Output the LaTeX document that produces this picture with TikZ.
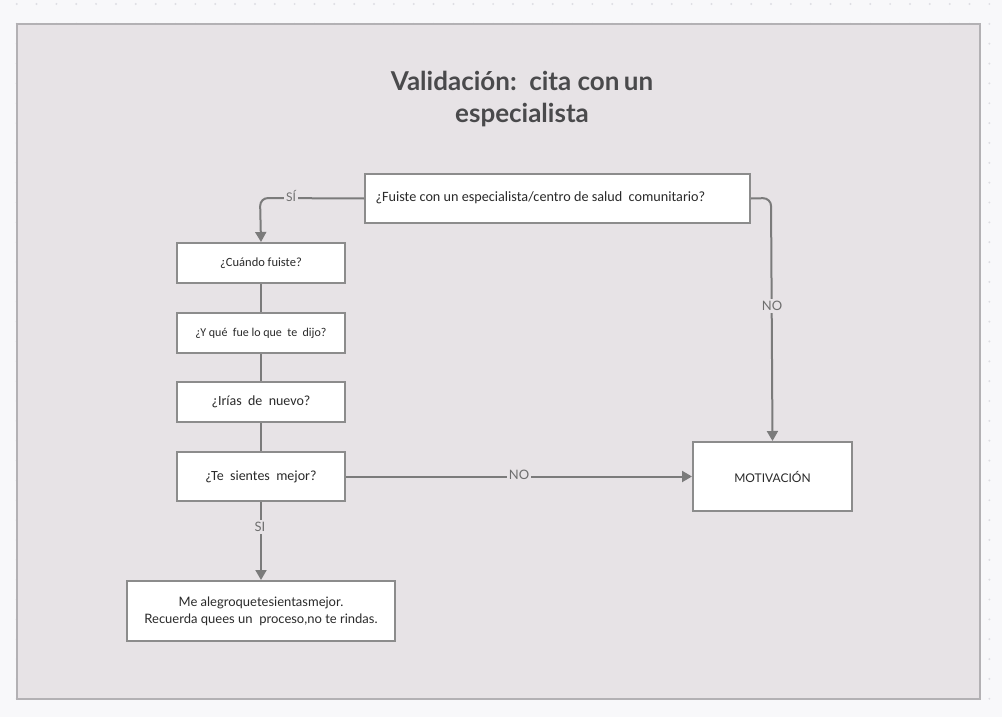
\documentclass[tikz,border=0pt]{standalone}
\usepackage{fontspec}
\setmainfont{Lato}
\newfontfamily\boxfont{Carlito}
\usetikzlibrary{arrows.meta}
\definecolor{pagebg}{HTML}{F8F8FA}
\definecolor{dotc}{HTML}{DEDEE3}
\definecolor{panelbg}{HTML}{E7E3E6}
\definecolor{panelbd}{HTML}{B3B1B4}
\definecolor{linec}{HTML}{7B7B7B}
\definecolor{boxbd}{HTML}{8C8C8C}
\definecolor{titlec}{HTML}{4A4A4C}
\definecolor{textc}{HTML}{2A2A2A}
\definecolor{labc}{HTML}{6E6E6E}
\tikzset{
  qbox/.style={draw=boxbd, line width=2pt, fill=white, inner sep=0pt, text=textc},
  conn/.style={draw=linec, line width=2pt},
  arr/.style={conn, -{Triangle[length=10pt,width=11pt]}},
  lab/.style={fill=panelbg, inner sep=2pt, text=labc, font=\fontsize{12}{14}\selectfont}
}
\begin{document}
\begin{tikzpicture}[x=1pt,y=-1pt]
\useasboundingbox (0,0) rectangle (1002,717);
\fill[pagebg] (0,0) rectangle (1002,717);
\foreach \i in {0,...,50}{\foreach \j in {0,...,36}{
  \fill[dotc] ({16.7+19.85*\i},{4+19.85*\j}) circle (1.1);}}
\draw[fill=panelbg, draw=panelbd, line width=2pt] (17,24) rectangle (980,699);
% title
\node[text=titlec, align=center, font=\fontsize{26}{32}\selectfont\bfseries] (title) at (522,99)
  {Validación:\ \ cita con\,un\\especialista};
% boxes
\node[qbox, minimum width=385pt, minimum height=49pt, anchor=north west] (q1) at (364,173) {};
\node[anchor=west, text=textc, font=\boxfont\fontsize{14.2}{16}\selectfont] (q1t) at (372,198)
  {¿Fuiste con un especialista/centro de salud\ \ comunitario?};
\node[qbox, minimum width=168pt, minimum height=40pt, anchor=north west,
  font=\boxfont\fontsize{12.5}{14}\selectfont] (q2) at (176,242) {¿Cuándo fuiste?};
\node[qbox, minimum width=168pt, minimum height=40pt, anchor=north west,
  font=\boxfont\fontsize{12}{14}\selectfont] (q3) at (176,312) {¿Y qué\ \ fue lo que\ \ te\ \ dijo?};
\node[qbox, minimum width=168pt, minimum height=40pt, anchor=north west,
  font=\boxfont\fontsize{14}{16}\selectfont] (q4) at (176,381) {¿Irías\ \ de\ \ nuevo?};
\node[qbox, minimum width=168pt, minimum height=49pt, anchor=north west,
  font=\boxfont\fontsize{14}{16}\selectfont] (q5) at (176,451) {¿Te\ \ sientes\ \ mejor?};
\node[qbox, minimum width=268pt, minimum height=60pt, anchor=north west, align=center,
  font=\fontsize{13}{17}\selectfont] (q6) at (126,580)
  {Me alegroquetesientasmejor.\\Recuerda quees\ un\ \ proceso,no\ te\ rindas.};
\node[qbox, minimum width=159pt, minimum height=69pt, anchor=north west,
  font=\fontsize{12}{14}\selectfont] (mot) at (692,441) {MOTIVACIÓN};
% connectors
\coordinate (c1) at (260,198);
\coordinate (c2) at (771,198);
\draw[arr, rounded corners=8pt] (q1.west) -- (c1) -- (q2.north);
\draw[arr, rounded corners=8pt] (q1.east) -- (c2) -- (mot.north);
\draw[conn] (q2.south) -- (q3.north);
\draw[conn] (q3.south) -- (q4.north);
\draw[conn] (q4.south) -- (q5.north);
\draw[arr] (q5.east) -- (mot.west);
\draw[arr] (q5.south) -- (q6.north);
% labels
\node[lab] (lsi) at (291,196) {SÍ};
\node[lab, font=\fontsize{13}{15}\selectfont] (lno1) at (772,306) {NO};
\node[lab, font=\fontsize{13}{15}\selectfont] (lno2) at (519,475) {NO};
\node[lab, font=\fontsize{13}{15}\selectfont] (lsi2) at (260,527) {SI};
\end{tikzpicture}
\end{document}
